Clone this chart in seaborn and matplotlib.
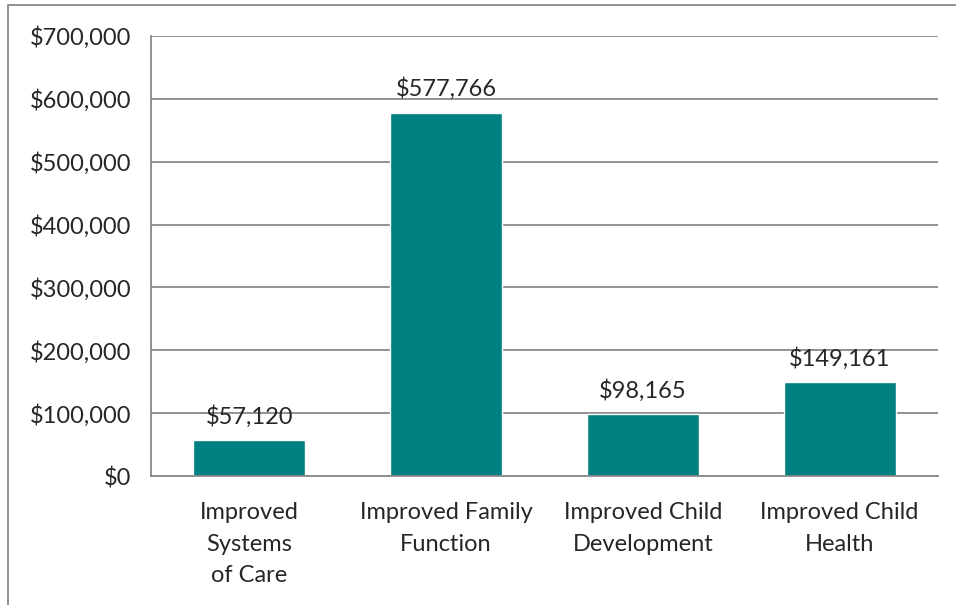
import matplotlib
matplotlib.use('Agg')
import matplotlib.pyplot as plt
import seaborn as sns
import pandas as pd
from matplotlib.ticker import FuncFormatter
from matplotlib.lines import Line2D

categories = ['Improved\nSystems\nof Care', 'Improved Family\nFunction',
              'Improved Child\nDevelopment', 'Improved Child\nHealth']
values = [57120, 577766, 98165, 149161]
yticks = [0, 100000, 200000, 300000, 400000, 500000, 600000, 700000]

df = pd.DataFrame({'cat': categories, 'val': values})

sns.set_style('white')
plt.rcParams['font.family'] = ['Lato', 'DejaVu Sans']

fig = plt.figure(figsize=(9.56, 6.05), dpi=100)
ax = fig.add_axes([151 / 956, 1 - 476 / 605, (938 - 151) / 956, (476 - 36) / 605])

sns.barplot(data=df, x='cat', y='val', color='#008080', saturation=1, width=0.57, ax=ax)

ax.set_ylim(0, 700000)
ax.set_yticks(yticks)
ax.yaxis.set_major_formatter(FuncFormatter(lambda v, p: f'${v:,.0f}'))
ax.grid(axis='y', color='#888888', linewidth=1.3)
ax.set_axisbelow(True)
ax.set_xlabel('')
ax.set_ylabel('')
for s in ['top', 'right']:
    ax.spines[s].set_visible(False)
for s in ['left', 'bottom']:
    ax.spines[s].set_color('#888888')
    ax.spines[s].set_linewidth(1.3)
ax.tick_params(axis='y', labelsize=17, pad=14, length=0)
ax.tick_params(axis='x', labelsize=17, pad=19, length=0)
for lbl in ax.get_xticklabels():
    lbl.set_linespacing(1.6)

for i, v in enumerate(values):
    ax.text(i, v + 20000, f'${v:,}', ha='center', va='bottom', fontsize=17)

# outer frame (top and left)
fig.add_artist(Line2D([8 / 956, 8 / 956, 1], [0, 1 - 5 / 605, 1 - 5 / 605],
                      color='#888888', linewidth=1.3, transform=fig.transFigure))

fig.savefig('out.png', dpi=100)
